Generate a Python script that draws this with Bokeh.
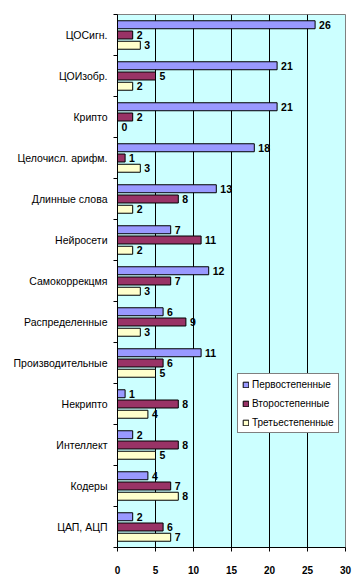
from bokeh.plotting import figure
from bokeh.models import ColumnDataSource, Range1d, FixedTicker, Legend
from bokeh.core.properties import value
from bokeh.embed import file_html
from bokeh.resources import INLINE

categories = ["ЦОСигн.", "ЦОИзобр.", "Крипто", "Целочисл. арифм.", "Длинные слова",
              "Нейросети", "Самокоррекцмя", "Распределенные", "Производительные",
              "Некрипто", "Интеллект", "Кодеры", "ЦАП, АЦП"]
primary = [26, 21, 21, 18, 13, 7, 12, 6, 11, 1, 2, 4, 2]
secondary = [2, 5, 2, 1, 8, 11, 7, 9, 6, 8, 8, 7, 6]
tertiary = [3, 2, 0, 3, 2, 2, 3, 3, 5, 4, 5, 8, 7]
series_names = ["Первостепенные", "Второстепенные", "Третьестепенные"]
series_colors = ["#9999FF", "#993366", "#FFFFCC"]
x_ticks = [0, 5, 10, 15, 20, 25, 30]

n = len(categories)
centers = [n - 0.5 - i for i in range(n)]

p = figure(width=360, height=577, output_backend="svg", toolbar_location=None,
           x_range=Range1d(0, 30), y_range=Range1d(0, n),
           min_border_left=117, min_border_right=15, min_border_top=14, min_border_bottom=30)
p.background_fill_color = "#CCFFFF"
p.outline_line_color = "#808080"
p.outline_line_width = 1

font = "Liberation Sans"
offsets = [0.25, 0.0, -0.25]
renderers = []
for vals, name, color, off in zip([primary, secondary, tertiary], series_names, series_colors, offsets):
    src = ColumnDataSource(dict(y=[c + off for c in centers], v=vals, t=[str(v) for v in vals]))
    r = p.hbar(y="y", right="v", left=0, height=0.195, source=src,
               fill_color=color, line_color="black", line_width=1)
    renderers.append((name, [r]))
    p.text(x="v", y="y", text="t", source=src, x_offset=4,
           text_baseline="middle", text_align="left",
           text_font=value(font), text_font_size="10.5px", text_font_style="bold",
           text_color="black")

# axes
p.xaxis.ticker = FixedTicker(ticks=x_ticks)
p.xaxis.major_label_text_font = font
p.xaxis.major_label_text_font_size = "10px"
p.xaxis.major_label_text_font_style = "bold"
p.xaxis.major_label_text_color = "black"
p.xaxis.major_label_standoff = 14
p.xaxis.major_tick_out = 4
p.xaxis.major_tick_in = 0
p.xaxis.minor_tick_out = 0
p.xaxis.minor_tick_in = 0
p.xaxis.axis_line_color = "black"

p.yaxis.ticker = FixedTicker(ticks=centers, minor_ticks=list(range(0, n + 1)))
p.yaxis.major_label_overrides = {c: cat for c, cat in zip(centers, categories)}
p.yaxis.major_label_text_font = font
p.yaxis.major_label_text_font_size = "10.5px"
p.yaxis.major_label_text_color = "black"
p.yaxis.major_label_standoff = 6
p.yaxis.major_tick_out = 0
p.yaxis.major_tick_in = 0
p.yaxis.minor_tick_out = 4
p.yaxis.minor_tick_in = 0
p.yaxis.axis_line_color = "black"

p.xgrid.grid_line_color = "black"
p.xgrid.grid_line_width = 1
p.ygrid.grid_line_color = None

legend = Legend(items=renderers, location=(120, 114), orientation="vertical")
legend.label_text_font = font
legend.label_text_font_size = "10px"
legend.label_text_color = "black"
legend.glyph_width = 7
legend.glyph_height = 7
legend.label_standoff = 3
legend.spacing = 7
legend.padding = 4
legend.margin = 0
legend.label_height = 12
legend.border_line_color = "black"
legend.border_line_width = 1
legend.background_fill_color = "white"
legend.background_fill_alpha = 1
p.add_layout(legend)

open("out.html", "w").write(file_html(p, INLINE))
